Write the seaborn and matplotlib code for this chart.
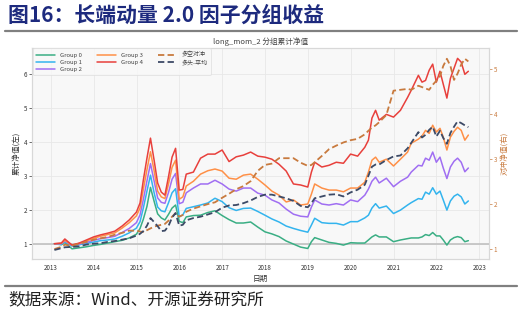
import matplotlib
matplotlib.use("Agg")
import matplotlib.pyplot as plt
from matplotlib.lines import Line2D
import pandas as pd
import seaborn as sns

months = ["2013-01", "2013-03", "2013-04", "2013-06", "2013-08", "2013-10", "2013-12",
          "2014-02", "2014-04", "2014-06", "2014-08", "2014-10", "2014-12",
          "2015-01", "2015-02", "2015-03", "2015-04", "2015-05", "2015-06", "2015-07",
          "2015-08", "2015-09", "2015-10", "2015-11", "2015-12",
          "2016-01", "2016-02", "2016-04", "2016-06", "2016-08", "2016-10", "2016-12",
          "2017-02", "2017-04", "2017-06", "2017-08", "2017-10", "2017-12",
          "2018-02", "2018-04", "2018-06", "2018-08", "2018-10", "2018-12",
          "2019-01", "2019-02", "2019-04", "2019-06", "2019-08", "2019-10", "2019-12",
          "2020-02", "2020-04", "2020-05", "2020-06", "2020-07", "2020-08", "2020-10", "2020-12",
          "2021-02", "2021-04", "2021-05", "2021-07", "2021-08", "2021-09", "2021-10", "2021-11", "2021-12",
          "2022-01", "2022-02", "2022-03", "2022-04", "2022-05", "2022-06", "2022-07", "2022-08", "2022-09"]

group4 = [1.00, 1.02, 1.14, 0.96, 1.02, 1.11, 1.20,
          1.26, 1.31, 1.37, 1.52, 1.70, 1.93,
          2.20, 2.87, 3.52, 4.11, 3.46, 2.79, 2.52, 2.43, 2.96, 3.55, 3.81, 2.58,
          2.60, 3.05, 3.11, 3.52, 3.64, 3.64, 3.76,
          3.42, 3.56, 3.61, 3.70, 3.58, 3.55,
          3.49, 3.34, 3.14, 2.76, 2.73, 2.67,
          3.11, 3.40, 3.26, 3.31, 3.40, 3.37, 3.64,
          3.58, 3.84, 4.05, 4.70, 4.93, 4.64, 4.81, 4.73,
          4.93, 5.31, 5.52, 5.96, 5.76, 5.81, 6.11, 6.29, 5.76,
          6.08, 5.70, 5.29, 5.87, 6.17, 6.46, 6.35, 5.99, 6.08]

group3 = [1.00, 1.01, 1.10, 0.96, 1.01, 1.08, 1.16,
          1.22, 1.27, 1.32, 1.46, 1.62, 1.82,
          2.05, 2.60, 3.18, 3.71, 3.15, 2.55, 2.38, 2.33, 2.75, 3.25, 3.46, 2.31,
          2.38, 2.70, 2.84, 3.05, 3.15, 3.20, 3.14,
          2.93, 2.90, 3.02, 3.05, 2.90, 2.73,
          2.55, 2.43, 2.23, 2.29, 2.14, 2.17,
          2.46, 2.76, 2.64, 2.58, 2.58, 2.53, 2.64,
          2.64, 2.81, 3.11, 3.46, 3.55, 3.40, 3.49, 3.29,
          3.49, 3.70, 3.96, 4.08, 4.17, 4.34, 4.25, 4.49, 4.29,
          4.40, 4.14, 3.76, 4.14, 4.31, 4.43, 4.34, 4.05, 4.20]

group2 = [1.00, 1.00, 1.08, 0.95, 0.99, 1.04, 1.10,
          1.15, 1.18, 1.22, 1.33, 1.45, 1.62,
          1.85, 2.30, 2.85, 3.36, 2.85, 2.35, 2.22, 2.19, 2.50, 2.90, 3.07, 2.18,
          2.22, 2.50, 2.64, 2.76, 2.76, 2.87, 2.76,
          2.61, 2.55, 2.64, 2.64, 2.49, 2.43,
          2.29, 2.20, 2.02, 1.87, 1.81, 1.79,
          2.08, 2.29, 2.17, 2.14, 2.18, 2.14, 2.29,
          2.24, 2.43, 2.61, 2.84, 2.96, 2.79, 2.93, 2.68,
          2.84, 2.96, 3.11, 3.31, 3.29, 3.52, 3.46, 3.70, 3.40,
          3.55, 3.23, 2.92, 3.26, 3.43, 3.52, 3.40, 3.12, 3.23]

group1 = [1.00, 0.98, 1.06, 0.93, 0.97, 1.01, 1.05,
          1.09, 1.11, 1.14, 1.22, 1.32, 1.46,
          1.65, 2.05, 2.55, 3.02, 2.50, 2.08, 1.97, 1.94, 2.20, 2.50, 2.62, 1.79,
          1.85, 2.04, 2.09, 2.14, 2.20, 2.34, 2.24,
          2.06, 1.98, 2.04, 2.05, 1.95, 1.84,
          1.73, 1.64, 1.52, 1.45, 1.39, 1.34,
          1.55, 1.75, 1.62, 1.60, 1.60, 1.55, 1.65,
          1.65, 1.76, 1.84, 2.05, 2.18, 2.05, 2.11, 1.89,
          1.99, 2.14, 2.21, 2.33, 2.31, 2.52, 2.46, 2.65, 2.46,
          2.55, 2.29, 1.99, 2.26, 2.40, 2.46, 2.38, 2.17, 2.26]

group0 = [1.00, 0.97, 1.04, 0.85, 0.88, 0.91, 0.95,
          0.98, 1.02, 1.06, 1.10, 1.17, 1.28,
          1.45, 1.72, 2.10, 2.66, 2.25, 1.88, 1.76, 1.70, 1.86, 2.05, 2.14, 1.66,
          1.62, 1.79, 1.83, 1.84, 1.92, 1.97, 1.83,
          1.71, 1.61, 1.61, 1.64, 1.49, 1.35,
          1.29, 1.21, 1.08, 0.99, 0.90, 0.86,
          1.06, 1.18, 1.11, 1.04, 1.01, 0.96, 1.03,
          1.02, 1.02, 1.11, 1.20, 1.26, 1.20, 1.20, 1.06,
          1.11, 1.15, 1.17, 1.17, 1.20, 1.27, 1.24, 1.33, 1.23,
          1.23, 1.11, 0.96, 1.11, 1.18, 1.21, 1.18, 1.06, 1.09]

long_short = [1.00, 1.05, 1.10, 1.07, 1.12, 1.16, 1.21,
              1.24, 1.27, 1.32, 1.36, 1.41, 1.41,
              1.39, 1.38, 1.42, 1.46, 1.50, 1.52, 1.54, 1.56, 1.63, 1.72, 1.80, 1.72,
              1.76, 1.83, 1.90, 1.95, 2.00, 2.04, 2.14,
              2.23, 2.33, 2.40, 2.51, 2.74, 2.87,
              2.90, 3.02, 3.02, 3.02, 2.92, 2.85,
              2.87, 2.93, 3.07, 3.22, 3.30, 3.37, 3.42,
              3.45, 3.55, 3.63, 3.70, 3.75, 3.82, 3.98, 4.52,
              4.54, 4.56, 4.54, 4.63, 4.60, 4.57, 4.54, 4.65, 4.74,
              4.84, 5.07, 5.23, 5.07, 4.76, 4.90, 5.10, 5.23, 5.17]

long_avg = [0.98, 1.02, 1.04, 1.05, 1.06, 1.10, 1.12,
            1.13, 1.16, 1.18, 1.21, 1.24, 1.30,
            1.34, 1.40, 1.52, 1.69, 1.60, 1.51, 1.40, 1.41, 1.51, 1.70, 1.80, 1.52,
            1.54, 1.64, 1.69, 1.72, 1.77, 1.82, 1.92,
            1.97, 1.98, 2.02, 2.08, 2.16, 2.21,
            2.21, 2.17, 2.13, 2.07, 1.96, 1.93,
            2.02, 2.13, 2.17, 2.21, 2.22, 2.17, 2.26,
            2.32, 2.43, 2.63, 2.83, 2.88, 2.88, 2.98, 3.06,
            3.08, 3.24, 3.36, 3.60, 3.48, 3.54, 3.65, 3.72, 3.50,
            3.63, 3.47, 3.34, 3.58, 3.72, 3.84, 3.80, 3.75, 3.71]

group_names = ["Group 0", "Group 1", "Group 2", "Group 3", "Group 4"]
group_vals = [group0, group1, group2, group3, group4]
group_colors = ["#3aae84", "#33b4ee", "#a06ef2", "#ff9047", "#e8403c"]
right_names = ["多空对冲", "多头-平均"]
right_vals = [long_short, long_avg]
right_colors = ["#c87a3e", "#3d4a66"]
left_ticks = [1, 2, 3, 4, 5, 6]
right_ticks = [1, 2, 3, 4, 5]
years = list(range(2013, 2024))

dates = pd.to_datetime(months) + pd.offsets.MonthEnd(0)

sns.set_theme(style="whitegrid")
plt.rcParams["font.family"] = ["Noto Sans CJK SC", "DejaVu Sans"]
plt.rcParams["axes.unicode_minus"] = False

fig = plt.figure(figsize=(5.22, 3.17), dpi=100)
fig.patch.set_facecolor("white")

# header / footer
fig.text(0.015, 0.953, "图16：长端动量 2.0 因子分组收益", fontsize=15, fontweight="bold",
         color="#1d2a7e", va="center", ha="left")
fig.add_artist(Line2D([0.01, 0.99], [1 - 31 / 317, 1 - 31 / 317], color="#808080", lw=1.6))
fig.add_artist(Line2D([0.01, 0.99], [1 - 286 / 317, 1 - 286 / 317], color="#808080", lw=1.6))
fig.text(0.015, 1 - 300 / 317, "数据来源：Wind、开源证券研究所", fontsize=12, color="#222222",
         va="center", ha="left")

ax = fig.add_axes([32 / 522, 1 - 259 / 317, (489 - 32) / 522, (259 - 47.5) / 317])
ax.set_facecolor("#f8f8f8")
ax2 = ax.twinx()

for name, vals, c in zip(group_names, group_vals, group_colors):
    sns.lineplot(x=dates, y=vals, ax=ax, color=c, lw=1.1, label=name, legend=False)

ax.axhline(1, color="#c4c4c4", lw=1.3, zorder=1)

for name, vals, c in zip(right_names, right_vals, right_colors):
    sns.lineplot(x=dates, y=vals, ax=ax2, color=c, lw=1.3, label=name, legend=False,
                 dashes=False, linestyle=(0, (3.5, 1.8)))

ax.set_xlim(pd.Timestamp("2012-07-24"), pd.Timestamp("2023-03-25"))
ax.set_ylim(0.55, 6.78)
ax2.set_ylim(0.78, 5.48)

ax.set_xticks([pd.Timestamp(f"{y}-01-01") for y in years])
ax.set_xticklabels([str(y) for y in years])
ax.set_yticks(left_ticks)
ax.set_yticklabels([str(t) for t in left_ticks])
ax2.set_yticks(right_ticks)
ax2.set_yticklabels([str(t) for t in right_ticks])

ax.tick_params(axis="both", labelsize=4.5, length=2, width=0.5, pad=1.5, colors="#333333")
ax.tick_params(axis="both", which="both", direction="out")
ax2.tick_params(axis="y", labelsize=4.5, length=2, width=0.5, pad=1.5, colors="#c87a3e")

ax.grid(True, color="#e8e8e8", lw=0.6)
ax2.grid(False)
for sp in ax.spines.values():
    sp.set_color("#d8d8d8")
    sp.set_linewidth(0.8)
for sp in ax2.spines.values():
    sp.set_color("#d8d8d8")
    sp.set_linewidth(0.8)

ax.set_title("long_mom_2 分组累计净值", fontsize=5.5, color="#444444", pad=2.5)
ax.set_xlabel("日期", fontsize=5.5, color="#333333", labelpad=2)
ax.set_ylabel("累计净值(左)", fontsize=5.5, color="#333333", labelpad=2)
ax2.set_ylabel("对冲净值(右)", fontsize=5.5, color="#c87a3e", labelpad=3)

h1, l1 = ax.get_legend_handles_labels()
h2, l2 = ax2.get_legend_handles_labels()
leg = ax2.legend(h1 + h2, l1 + l2, loc="upper left", ncol=3, fontsize=4.3,
                 frameon=True, handlelength=3.2, columnspacing=2.5, labelspacing=0.35,
                 borderpad=0.5, borderaxespad=0.15, handletextpad=0.8)
leg.get_frame().set_facecolor("#f8f8f8")
leg.get_frame().set_edgecolor("#dddddd")
leg.get_frame().set_linewidth(0.6)
for t in leg.get_texts():
    t.set_color("#444444")

fig.savefig("out.png", dpi=100, facecolor="white")
